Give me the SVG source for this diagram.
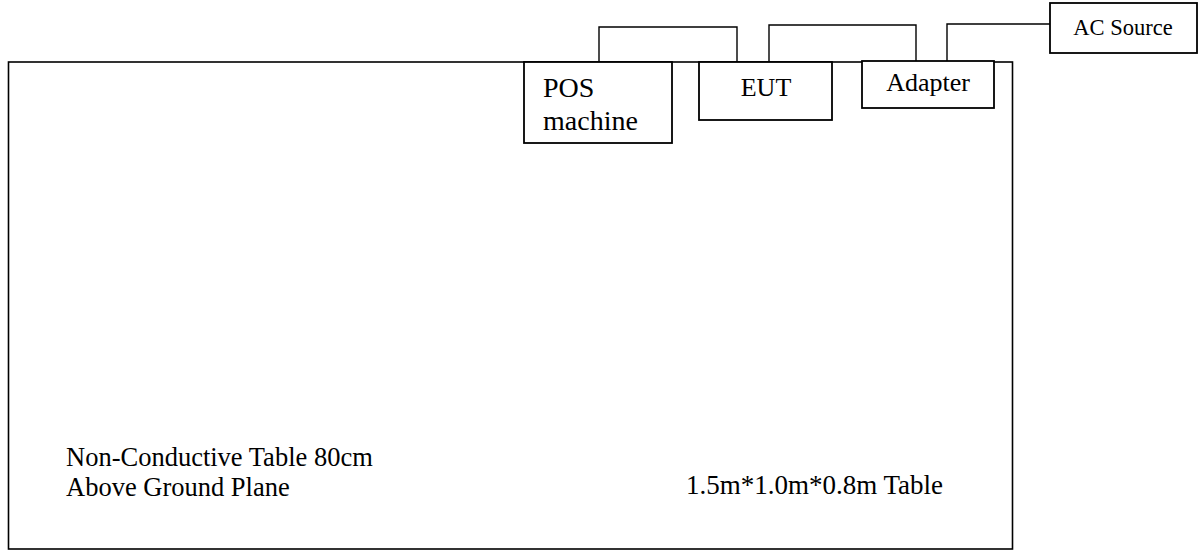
<svg xmlns="http://www.w3.org/2000/svg" width="1203" height="555" viewBox="0 0 1203 555">
<style>
.box{fill:#fff;stroke:#000;stroke-width:1.8}
.tbl{fill:none;stroke:#000;stroke-width:1.6}
.wire{fill:none;stroke:#000;stroke-width:1.4}
.t{font-family:"Liberation Serif","Times New Roman",serif;fill:#000}
</style>
<rect width="1203" height="555" fill="#fff"/>
<g id="table">
<rect class="tbl" x="8.5" y="62" width="1004" height="487"/>
<text class="t" x="66" y="466" font-size="26.5">Non-Conductive Table 80cm</text>
<text class="t" x="66" y="496" font-size="26.5">Above Ground Plane</text>
<text class="t" x="686" y="494" font-size="27">1.5m*1.0m*0.8m Table</text>
</g>
<g id="connectors">
<polyline class="wire" points="599,62 599,27 737,27 737,62"/>
<polyline class="wire" points="769,62 769,25 916,25 916,62"/>
<polyline class="wire" points="947,62 947,24 1050,24"/>
</g>
<g id="pos">
<rect class="box" x="524" y="62" width="148" height="81"/>
<text class="t" x="543" y="97" font-size="28">POS</text>
<text class="t" x="543" y="130" font-size="28">machine</text>
</g>
<g id="eut">
<rect class="box" x="699" y="62" width="133" height="58"/>
<text class="t" x="766" y="96" font-size="26" text-anchor="middle">EUT</text>
</g>
<g id="adapter">
<rect class="box" x="862" y="61" width="132" height="47"/>
<text class="t" x="928" y="91" font-size="26" text-anchor="middle">Adapter</text>
</g>
<g id="ac">
<rect class="box" x="1050" y="3" width="147" height="50"/>
<text class="t" x="1123" y="35" font-size="22.5" text-anchor="middle">AC Source</text>
</g>
</svg>
